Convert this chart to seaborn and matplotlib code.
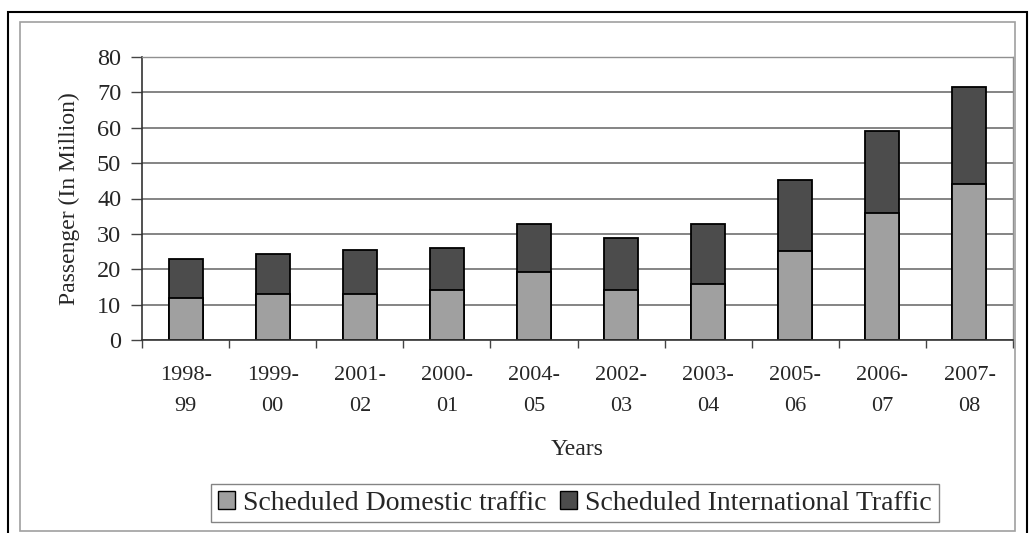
import matplotlib
matplotlib.use("Agg")
import matplotlib.pyplot as plt
import seaborn as sns
import pandas as pd
from matplotlib.patches import Rectangle, Patch

years = ["1998-\n99", "1999-\n00", "2001-\n02", "2000-\n01", "2004-\n05",
         "2002-\n03", "2003-\n04", "2005-\n06", "2006-\n07", "2007-\n08"]
domestic = [12, 13, 13, 14.2, 19.2, 14.2, 15.8, 25.2, 36, 44.2]
international = [11, 11.4, 12.4, 11.7, 13.7, 14.7, 17, 20, 23.2, 27.3]
y_ticks = [0, 10, 20, 30, 40, 50, 60, 70, 80]

df = pd.DataFrame({"Year": years, "Domestic": domestic, "International": international})
df["Total"] = df["Domestic"] + df["International"]

sns.set_theme(style="white")
plt.rcParams["font.family"] = ["Liberation Serif", "DejaVu Serif"]

W, H = 1033, 533
fig = plt.figure(figsize=(W / 100, H / 100), dpi=100)
ax = fig.add_axes([142 / W, 1 - 340 / H, (1013 - 142) / W, (340 - 57) / H])

dark = "#4c4c4c"
light = "#a0a0a0"
sns.barplot(data=df, x="Year", y="Total", color=dark, saturation=1,
            width=0.39, edgecolor="black", linewidth=1.3, ax=ax)
sns.barplot(data=df, x="Year", y="Domestic", color=light, saturation=1,
            width=0.39, edgecolor="black", linewidth=1.3, ax=ax)

fs = 16
ax.set_ylim(0, 80)
ax.set_xlim(-0.5, len(years) - 0.5)
ax.set_yticks(y_ticks)
ax.set_yticklabels([str(v) for v in y_ticks], fontsize=17.5)
ax.set_xticks([i + 0.5 for i in range(-1, len(years))], minor=True)
ax.tick_params(axis="x", which="major", length=0, pad=19, labelsize=fs)
ax.tick_params(axis="x", which="minor", length=6, width=1, color="#444444", direction="out", bottom=True)
ax.tick_params(axis="y", length=8, width=1, color="#444444", direction="out", left=True, pad=7)
for lab in ax.get_xticklabels():
    lab.set_linespacing(1.85)

ax.yaxis.grid(True, color="#707070", linewidth=1.2)
ax.set_axisbelow(True)
for s in ["top", "right"]:
    ax.spines[s].set_color("#909090")
    ax.spines[s].set_linewidth(1)
for s in ["left", "bottom"]:
    ax.spines[s].set_color("#333333")
    ax.spines[s].set_linewidth(1.2)

ax.set_xlabel("Years", fontsize=17, labelpad=16)
ax.set_ylabel("Passenger (In Million)", fontsize=17, labelpad=12)

handles = [Patch(facecolor=light, edgecolor="black", linewidth=1),
           Patch(facecolor=dark, edgecolor="black", linewidth=1)]
leg = fig.legend(handles, ["Scheduled Domestic traffic", "Scheduled International Traffic"],
                 loc="center", bbox_to_anchor=(575 / W, 1 - 503 / H), ncol=2,
                 prop={"size": 20}, frameon=True, fancybox=False, handlelength=0.6,
                 handleheight=0.6, handletextpad=0.3, columnspacing=0.5,
                 borderpad=0.25, borderaxespad=0)
leg.get_frame().set_edgecolor("#666666")
leg.get_frame().set_linewidth(1)

fig.patches.append(Rectangle((8 / W, -0.05), (1027 - 8) / W, 1.05 - 12 / H,
                             transform=fig.transFigure, fill=False,
                             edgecolor="black", linewidth=1.5))
fig.patches.append(Rectangle((20 / W, 1 - 531 / H), (1015 - 20) / W, (531 - 22) / H,
                             transform=fig.transFigure, fill=False,
                             edgecolor="#a0a0a0", linewidth=1.2))

fig.savefig("out.png", dpi=100)
